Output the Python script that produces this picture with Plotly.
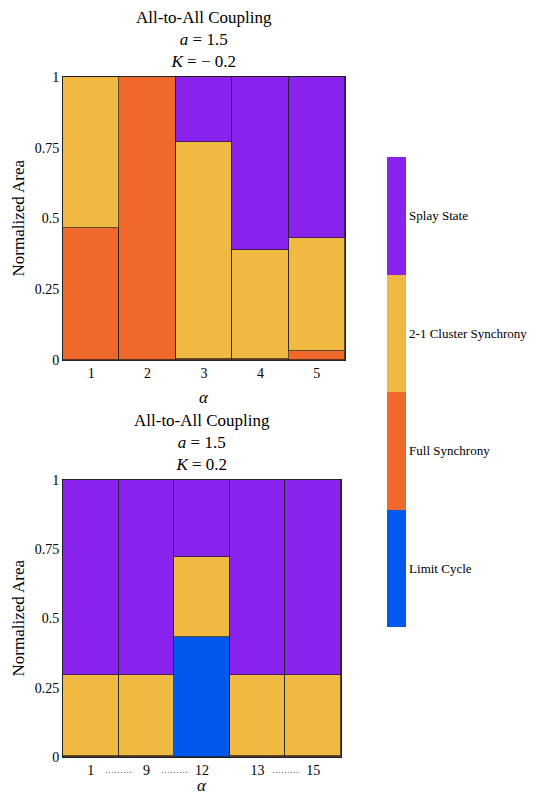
import plotly.graph_objects as go

# ---- data -------------------------------------------------------------
states = ["Limit Cycle", "Full Synchrony", "2-1 Cluster Synchrony", "Splay State"]
colors = ["#0058EE", "#F0682A", "#F0B942", "#8A22EE"]

# K = -0.2 panel
alpha_top = ["1", "2", "3", "4", "5"]
top_limit_cycle = [0.0, 0.0, 0.0, 0.0, 0.0]
top_full_sync = [0.466, 1.0, 0.005, 0.005, 0.033]
top_cluster = [0.534, 0.0, 0.765, 0.385, 0.398]
top_splay = [0.0, 0.0, 0.23, 0.61, 0.569]

# K = 0.2 panel
alpha_bot = ["1", "9", "12", "13", "15"]
bot_limit_cycle = [0.0, 0.0, 0.435, 0.0, 0.0]
bot_full_sync = [0.005, 0.005, 0.0, 0.005, 0.005]
bot_cluster = [0.29, 0.29, 0.287, 0.29, 0.29]
bot_splay = [0.705, 0.705, 0.278, 0.705, 0.705]

y_ticks = [0, 0.25, 0.5, 0.75, 1]
y_tick_text = ["0", "0.25", "0.5", "0.75", "1"]

FONT = "Liberation Serif, Times New Roman, serif"
W, H = 540, 796

fig = go.Figure()

top_series = [top_limit_cycle, top_full_sync, top_cluster, top_splay]
bot_series = [bot_limit_cycle, bot_full_sync, bot_cluster, bot_splay]

edge = dict(color="rgba(30,30,30,0.7)", width=1)
for name, col, vals in zip(states, colors, top_series):
    fig.add_trace(go.Bar(x=alpha_top, y=vals, name=name, marker_color=col,
                         marker_line=edge, xaxis="x", yaxis="y", showlegend=False))
for name, col, vals in zip(states, colors, bot_series):
    fig.add_trace(go.Bar(x=alpha_bot, y=vals, name=name, marker_color=col,
                         marker_line=edge, xaxis="x2", yaxis="y2", showlegend=False))

# discrete colour key for the four states
cscale = []
for i, c in enumerate(colors):
    cscale.append([i / 4, c])
    cscale.append([(i + 1) / 4, c])
fig.add_trace(go.Scatter(
    x=[None], y=[None], mode="markers", xaxis="x", yaxis="y", showlegend=False,
    marker=dict(color=[0], colorscale=cscale, cmin=0, cmax=4, showscale=True,
                colorbar=dict(x=387 / W, xanchor="left", thickness=19,
                              len=470 / H, lenmode="fraction",
                              y=1 - 392 / H, yanchor="middle",
                              outlinewidth=0, ticks="", xpad=0, ypad=0,
                              tickvals=[0.5, 1.5, 2.5, 3.5], ticktext=states,
                              tickfont=dict(family=FONT, size=13, color="black")))))


def px_x(p):
    return p / W


def px_y(p):
    return 1 - p / H


axis_common = dict(showline=True, linecolor="#222", linewidth=1, mirror=True,
                   showgrid=False, zeroline=False, ticks="",
                   tickfont=dict(family=FONT, size=14, color="black"))

fig.update_layout(
    width=W, height=H,
    margin=dict(l=0, r=0, t=0, b=0, autoexpand=False),
    paper_bgcolor="white", plot_bgcolor="white",
    barmode="stack", bargap=0,
    font=dict(family=FONT, color="black"),
    xaxis=dict(domain=[px_x(63), px_x(345)], anchor="y", type="category", **axis_common),
    yaxis=dict(domain=[px_y(360), px_y(77)], anchor="x", range=[0, 1],
               tickvals=y_ticks, ticktext=y_tick_text, **axis_common),
    xaxis2=dict(domain=[px_x(63), px_x(341)], anchor="y2", type="category", **axis_common),
    yaxis2=dict(domain=[px_y(757), px_y(480)], anchor="x2", range=[0, 1],
                tickvals=y_ticks, ticktext=y_tick_text, **axis_common),
)

ann = []
titles = [("All-to-All Coupling<br><i>a</i> = 1.5<br><i>K</i> = − 0.2", 204, 73),
          ("All-to-All Coupling<br><i>a</i> = 1.5<br><i>K</i> = 0.2", 202, 476)]
for text, cx, bottom in titles:
    ann.append(dict(text=text, x=px_x(cx), y=px_y(bottom), xref="paper", yref="paper",
                    xanchor="center", yanchor="bottom", showarrow=False,
                    font=dict(family=FONT, size=17, color="black")))
for cy in [(77 + 360) / 2, (480 + 757) / 2]:
    ann.append(dict(text="Normalized Area", x=px_x(18), y=px_y(cy), xref="paper", yref="paper",
                    textangle=-90, xanchor="center", yanchor="middle", showarrow=False,
                    font=dict(family=FONT, size=17, color="black")))
for cx, cy in [(204, 397), (202, 785)]:
    ann.append(dict(text="<i>α</i>", x=px_x(cx), y=px_y(cy), xref="paper", yref="paper",
                    xanchor="center", yanchor="middle", showarrow=False,
                    font=dict(family=FONT, size=17, color="black")))
# dotted gaps between non-consecutive α values
for xpos in [0.5, 1.5, 3.5]:
    ann.append(dict(text="·········", x=xpos, y=px_y(772), xref="x2", yref="paper",
                    xanchor="center", yanchor="middle", showarrow=False,
                    font=dict(family=FONT, size=9, color="black")))
fig.update_layout(annotations=ann)

fig.write_html("out.html")
